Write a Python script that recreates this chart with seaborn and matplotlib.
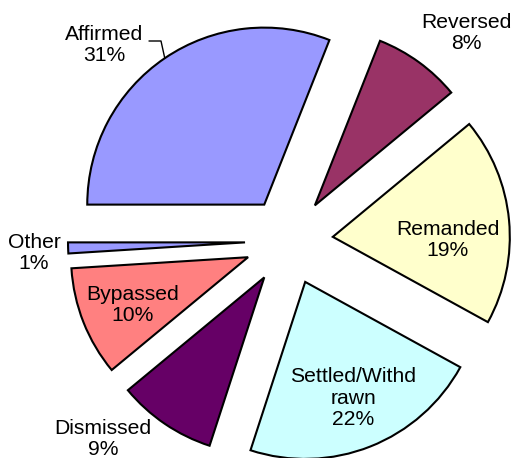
import matplotlib
matplotlib.use("Agg")
import numpy as np
import matplotlib.pyplot as plt
import seaborn as sns

# Data
categories = ["Affirmed", "Reversed", "Remanded", "Settled/Withdrawn", "Dismissed", "Bypassed", "Other"]
shares = [31, 8, 19, 22, 9, 10, 1]
label_texts = ["Affirmed\n31%", "Reversed\n8%", "Remanded\n19%", "Settled/Withd\nrawn\n22%",
               "Dismissed\n9%", "Bypassed\n10%", "Other\n1%"]
colors = ["#9999FF", "#993366", "#FFFFCC", "#CCFFFF", "#660066", "#FF8080", "#9999FF"]

# label centres in pixels (from top-left)
label_pos = [(104, 45), (466, 33), (448, 240), (353, 398), (103, 439), (133, 305), (34, 253)]

W, H = 514, 458

sns.set_theme(style="white")
plt.rcParams['font.family'] = ['Liberation Sans', 'DejaVu Sans']

fig = plt.figure(figsize=(W / 100, H / 100), dpi=100)
ax = fig.add_axes([0, 0, 1, 1])

wedges, _ = ax.pie(
    shares,
    colors=colors,
    startangle=180,
    counterclock=False,
    radius=177,
    center=(289, H - 241),
    explode=[44] * len(shares),
    wedgeprops=dict(edgecolor="black", linewidth=1.5),
)
ax.set_xlim(0, W)
ax.set_ylim(0, H)
ax.set_aspect("equal")
ax.axis("off")

for txt, (px, py) in zip(label_texts, label_pos):
    ax.text(px, H - py, txt, ha="center", va="center", multialignment="center",
            fontsize=15.2, color="black", linespacing=1.15)

# leader line for Affirmed
w = wedges[0]
tm = np.deg2rad((w.theta1 + w.theta2) / 2)
ex = w.center[0] + w.r * np.cos(tm)
ey = w.center[1] + w.r * np.sin(tm)
ax.plot([149, 161, ex], [H - 41, H - 41, ey], color="black", linewidth=1)

fig.savefig("out.png", dpi=100, facecolor="white")
